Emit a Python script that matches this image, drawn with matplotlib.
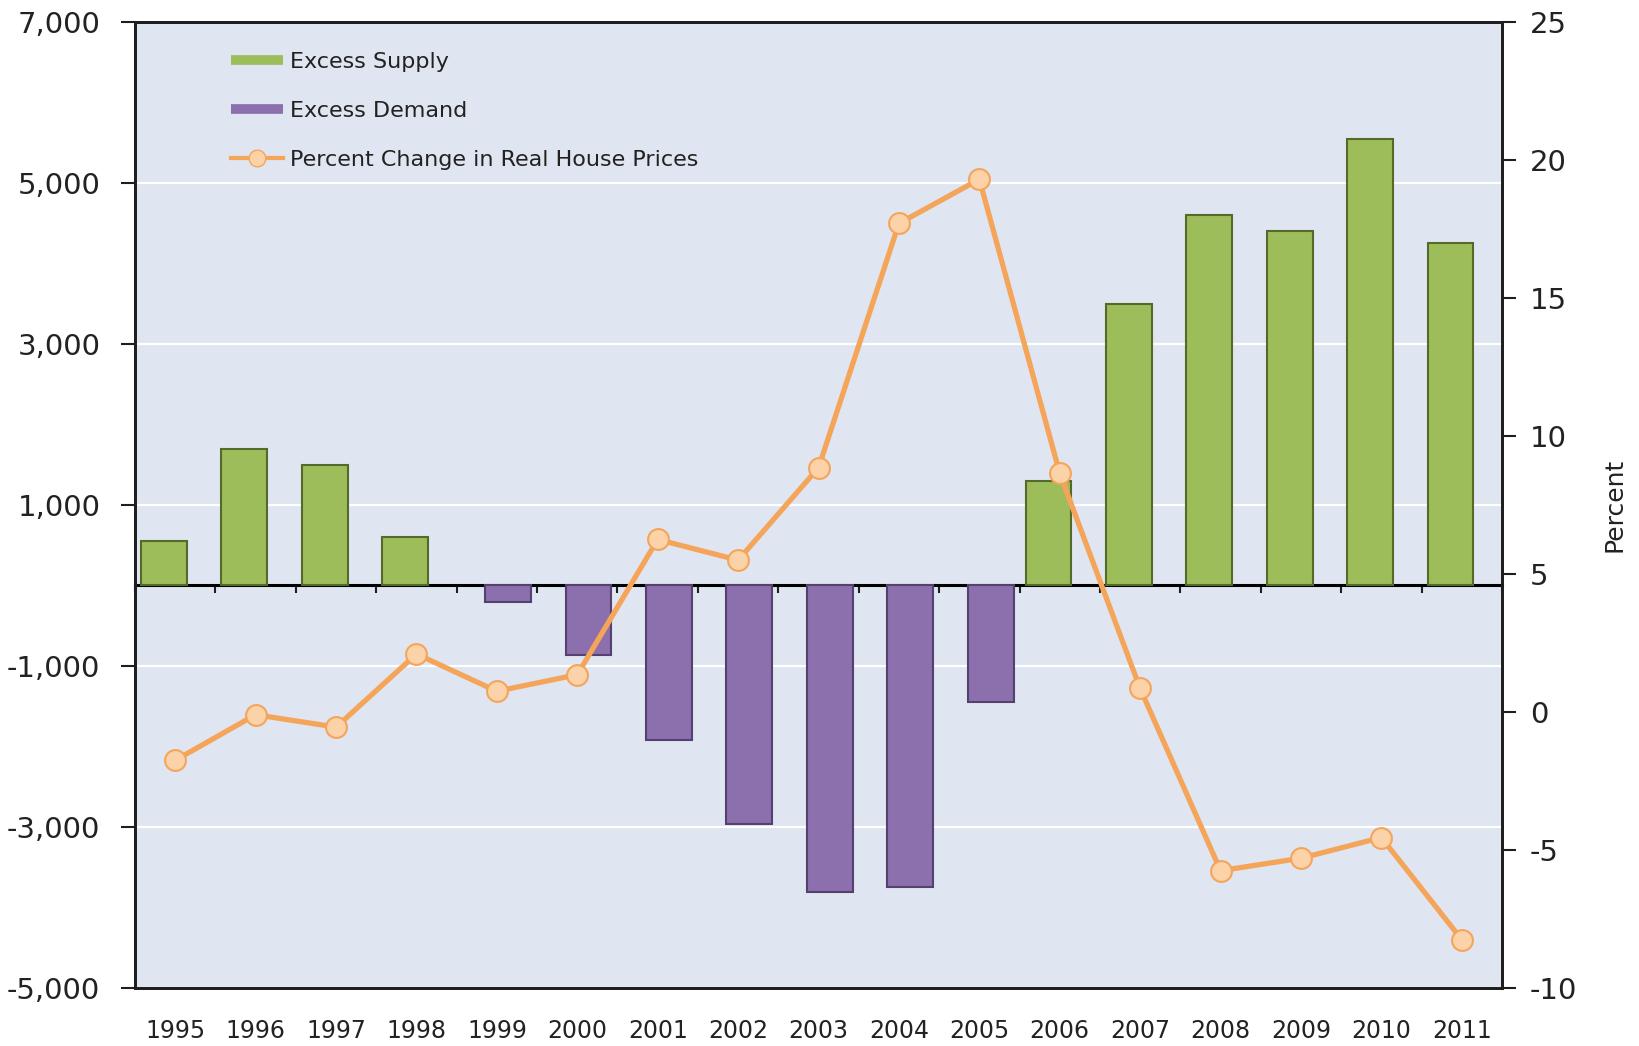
import numpy as np
import matplotlib
matplotlib.use("Agg")
import matplotlib.pyplot as plt
from matplotlib.lines import Line2D
from matplotlib.ticker import FuncFormatter, FixedLocator

# ---------------- data ----------------
years = ["1995", "1996", "1997", "1998", "1999", "2000", "2001", "2002", "2003",
         "2004", "2005", "2006", "2007", "2008", "2009", "2010", "2011"]
excess_supply = [550, 1700, 1500, 600, np.nan, np.nan, np.nan, np.nan, np.nan,
                 np.nan, np.nan, 1300, 3500, 4600, 4400, 5550, 4250]
excess_demand = [np.nan, np.nan, np.nan, np.nan, -200, -870, -1920, -2960, -3810,
                 -3750, -1450, np.nan, np.nan, np.nan, np.nan, np.nan, np.nan]
price_change = [-1.75, -0.1, -0.55, 2.1, 0.75, 1.35, 6.25, 5.5, 8.85,
                17.7, 19.3, 8.65, 0.85, -5.75, -5.3, -4.55, -8.25]
left_ticks = [-5000, -3000, -1000, 1000, 3000, 5000, 7000]
right_ticks = [-10, -5, 0, 5, 10, 15, 20, 25]

# ---------------- style ----------------
bg = "#dfe6f1"
green = "#9dbd5a"
green_edge = "#55692a"
purple = "#8c70ae"
purple_edge = "#54416f"
orange = "#f5a55a"
marker_fill = "#fcd2a8"
frame = "#1e1e1e"
plt.rcParams["font.family"] = ["DejaVu Sans"]
plt.rcParams["axes.unicode_minus"] = False

fig = plt.figure(figsize=(16.39, 10.46), dpi=100)
ax = fig.add_axes([0.0824, 0.0555, 0.834, 0.9235])
ax.set_facecolor(bg)

x = np.arange(len(years))
bw = 0.57
off = 0.14
ax.bar(x - off, excess_supply, width=bw, color=green, edgecolor=green_edge,
       linewidth=1.5, zorder=3)
ax.bar(x + off, excess_demand, width=bw, color=purple, edgecolor=purple_edge,
       linewidth=1.5, zorder=3)

ymin, ymax = -5000, 7000
ax.set_ylim(ymin, ymax)
ax.set_xlim(-0.5, len(years) - 0.5)
ax.yaxis.set_major_locator(FixedLocator(left_ticks))
ax.yaxis.set_major_formatter(FuncFormatter(lambda v, p: f"{v:,.0f}"))
ax.grid(axis="y", color="white", linewidth=1.6, zorder=1)
ax.set_axisbelow(True)
ax.tick_params(axis="y", direction="out", length=10, width=1.5, color=frame,
               labelsize=21, pad=15, labelcolor="#222222")
ax.set_xticks(x)
ax.set_xticklabels(years)
ax.tick_params(axis="x", length=0, labelsize=17, pad=22, labelcolor="#222222")
for s in ax.spines.values():
    s.set_color(frame)
    s.set_linewidth(2)

# zero line with category-boundary ticks
zero_loc = (0 - ymin) / (ymax - ymin)
sec = ax.secondary_xaxis(zero_loc)
sec.set_alignment("bottom")
sec.set_xticks(np.arange(-0.5, len(years) - 0.4, 1.0))
sec.set_xticklabels([])
sec.tick_params(axis="x", direction="out", length=6, width=1.5, color=frame)
sec.spines["bottom"].set_color("black")
sec.spines["bottom"].set_linewidth(2.2)

# right axis with line
ax2 = ax.twinx()
ax2.plot(x, price_change, color=orange, linewidth=3.8, marker="o",
         markersize=15, markerfacecolor=marker_fill, markeredgecolor=orange,
         markeredgewidth=1.5, zorder=5)
ax2.set_ylim(-10, 25)
ax2.yaxis.set_major_locator(FixedLocator(right_ticks))
ax2.tick_params(axis="y", direction="out", length=10, width=1.5, color=frame,
                labelsize=21, pad=10, labelcolor="#222222")
for s in ax2.spines.values():
    s.set_color(frame)
    s.set_linewidth(2)
ax2.set_ylabel("Percent", fontsize=18, rotation=90, labelpad=18,
               family=["Liberation Sans Narrow", "DejaVu Sans"], color="#222222")

handles = [
    Line2D([], [], color=green, linewidth=7, solid_capstyle="butt"),
    Line2D([], [], color=purple, linewidth=7, solid_capstyle="butt"),
    Line2D([], [], color=orange, linewidth=3, marker="o", markersize=12,
           markerfacecolor=marker_fill, markeredgecolor=orange),
]
labels = ["Excess Supply", "Excess Demand", "Percent Change in Real House Prices"]
ax2.legend(handles, labels, loc="upper left", bbox_to_anchor=(0.064, 0.978),
           frameon=False, fontsize=16, handlelength=2.3, handletextpad=0.35,
           labelspacing=1.3, borderaxespad=0.0, labelcolor="#222222")

fig.savefig("out.png", dpi=100)
